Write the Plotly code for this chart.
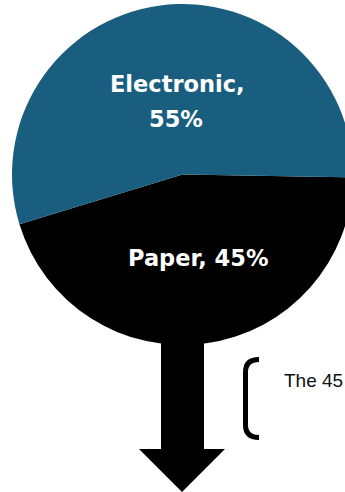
import plotly.graph_objects as go

# Data
labels = ["Paper", "Electronic"]
values = [45, 55]
colors = ["#000000", "#195E7F"]
side_note = "The 45"

W, H = 355, 492

fig = go.Figure()

fig.add_trace(go.Pie(
    labels=labels,
    values=values,
    sort=False,
    direction="clockwise",
    rotation=91,
    marker=dict(colors=colors, line=dict(width=0)),
    textinfo="none",
    hoverinfo="label+percent",
    showlegend=False,
    domain=dict(x=[12 / W, 353 / W], y=[(H - 345) / H, (H - 4) / H]),
))

# slice labels (text built from data), one annotation per line
label_lines = {
    "Electronic": [(177, 84), (176, 119)],
    "Paper": [(198, 258)],
}
label_font = dict(family="DejaVu Sans", size=22.5, color="white", weight="bold")
for lab, val in zip(labels, values):
    if lab == "Electronic":
        parts = [f"{lab},", f"{val}%"]
    else:
        parts = [f"{lab}, {val}%"]
    for part, (x, y) in zip(parts, label_lines[lab]):
        fig.add_annotation(
            x=x, y=y, xref="x", yref="y", text=part, showarrow=False,
            font=label_font, xanchor="center", yanchor="middle", align="center",
        )

# arrow below pie
fig.add_shape(
    type="path",
    path="M161,330 L204,330 L204,449 L225,449 L182,492 L139,449 L161,449 Z",
    xref="x", yref="y", fillcolor="black", line=dict(width=0), layer="below",
)

# bracket
fig.add_shape(
    type="path",
    path="M259,359.5 Q245.5,359.5 245.5,372 L245.5,425 Q245.5,437.5 259,437.5",
    xref="x", yref="y", line=dict(color="black", width=5),
)

fig.add_annotation(
    x=282, y=380, xref="x", yref="y", text=side_note, showarrow=False,
    font=dict(family="Liberation Sans", size=19, color="#111111"),
    xanchor="left", yanchor="middle",
)

fig.update_layout(
    width=W, height=H,
    margin=dict(l=0, r=0, t=0, b=0),
    paper_bgcolor="white", plot_bgcolor="white",
    xaxis=dict(range=[0, W], visible=False, domain=[0, 1], fixedrange=True),
    yaxis=dict(range=[H, 0], visible=False, domain=[0, 1], fixedrange=True),
)

fig.write_html(
    "out.html",
    config={"displayModeBar": False},
    post_script="document.body.style.margin='0';document.body.style.overflow='hidden';document.documentElement.style.overflow='hidden';",
)
